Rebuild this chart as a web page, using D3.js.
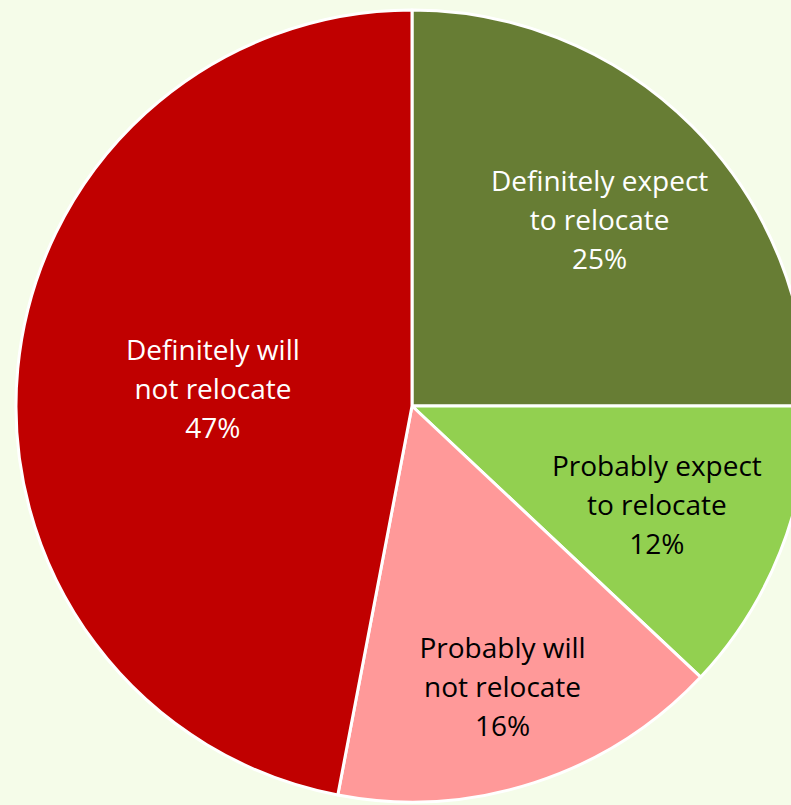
<!DOCTYPE html>
<html>
<head>
<meta charset="utf-8">
<script src="https://cdn.jsdelivr.net/npm/d3@7"></script>
<style>
  html, body { margin: 0; padding: 0; background: #f5fce9; overflow: hidden; }
</style>
</head>
<body>
<script>
// Chart data
const categories = [
  "Definitely expect to relocate",
  "Probably expect to relocate",
  "Probably will not relocate",
  "Definitely will not relocate"
];
const shares = [25, 12, 16, 47];
const labelLines = [
  ["Definitely expect", "to relocate"],
  ["Probably expect", "to relocate"],
  ["Probably will", "not relocate"],
  ["Definitely will", "not relocate"]
];

// Canvas setup
const canvasWidth = 791;
const canvasHeight = 805;
const cx = 412, cy = 406, radius = 396;

const colors = ["#677d34", "#92d050", "#ff9999", "#c00000"];
const textColors = ["#ffffff", "#000000", "#000000", "#ffffff"];
// label distance from centre, as fraction of radius
const labelRadius = [0.67, 0.665, 0.74, 0.505];

const svg = d3.select("body")
  .append("svg")
  .attr("width", canvasWidth)
  .attr("height", canvasHeight);

const data = categories.map((c, i) => ({ name: c, value: shares[i], lines: labelLines[i], i }));

const pie = d3.pie().value(d => d.value).sort(null);
const arc = d3.arc().innerRadius(0).outerRadius(radius);

const g = svg.append("g").attr("transform", `translate(${cx},${cy})`);

const arcs = pie(data);

g.selectAll("path")
  .data(arcs)
  .enter().append("path")
  .attr("d", arc)
  .attr("fill", d => colors[d.data.i])
  .attr("stroke", "#ffffff")
  .attr("stroke-width", 3)
  .attr("stroke-linejoin", "round");

// labels
const lineH = 39;
const labels = g.selectAll("text.lbl")
  .data(arcs)
  .enter().append("text")
  .attr("class", "lbl")
  .attr("text-anchor", "middle")
  .attr("fill", d => textColors[d.data.i])
  .style("font-family", "'Open Sans', sans-serif")
  .style("font-size", "28px")
  .attr("transform", d => {
    const a = (d.startAngle + d.endAngle) / 2;
    const r = radius * labelRadius[d.data.i];
    return `translate(${Math.sin(a) * r},${-Math.cos(a) * r})`;
  });

labels.each(function(d) {
  const t = d3.select(this);
  const lines = d.data.lines.concat([d.data.value + "%"]);
  lines.forEach((l, k) => {
    t.append("tspan")
      .attr("x", 0)
      .attr("y", (k - 1) * lineH + 12)
      .text(l);
  });
});
</script>
</body>
</html>
